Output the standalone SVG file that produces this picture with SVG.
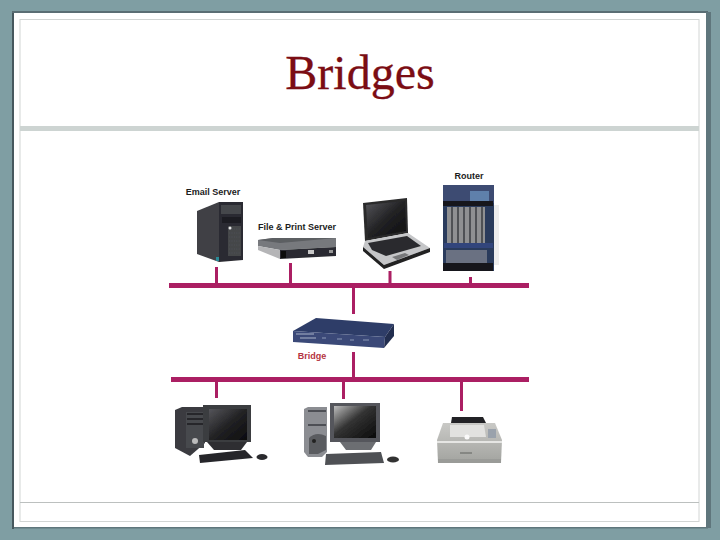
<svg xmlns="http://www.w3.org/2000/svg" width="720" height="540" viewBox="0 0 720 540">
<style>
.lbl{font-family:"Liberation Sans",Arial,sans-serif;font-weight:700;font-size:9px;fill:#1c1c1c}
.bus{fill:#ab1f63}
.drop{stroke:#ab1f63;stroke-width:3;fill:none}
.grille{stroke:#55585c;stroke-width:.7;stroke-dasharray:1.2 1.2;fill:none}
</style>
<defs>
<filter id="soft" x="-5%" y="-5%" width="110%" height="110%"><feGaussianBlur stdDeviation="0.55"/></filter>
<linearGradient id="screen" x1="0" y1="0" x2="1" y2="1"><stop offset="0" stop-color="#55555a"/><stop offset=".5" stop-color="#222224"/><stop offset="1" stop-color="#0c0c0e"/></linearGradient>
<linearGradient id="screen2" x1="0" y1="0" x2="1" y2="1"><stop offset="0" stop-color="#bdbdbd"/><stop offset=".45" stop-color="#333"/><stop offset="1" stop-color="#0a0a0a"/></linearGradient>
<linearGradient id="grey" x1="0" y1="0" x2="0" y2="1"><stop offset="0" stop-color="#c9c9c6"/><stop offset="1" stop-color="#a2a39f"/></linearGradient>
</defs>

<rect width="720" height="540" fill="#7f9ea3"/>
<rect x="12" y="11" width="2" height="518" fill="#46585e"/>
<rect x="12" y="11" width="696" height="2" fill="#5a6e74"/>
<rect x="706" y="12" width="5" height="516" fill="#5f767c"/>
<rect x="14" y="527" width="694" height="1.500" fill="#5f767c"/>
<rect x="14" y="13" width="692" height="514" fill="#fff"/>
<rect x="20" y="19.500" width="679" height="502" fill="none" stroke="#d2d5d4" stroke-width="1"/>
<rect x="20" y="126" width="679" height="5" fill="#cdd4d2"/>
<line x1="20" y1="502.500" x2="699" y2="502.500" stroke="#bcc0bf" stroke-width="1"/>
<text x="360" y="89" text-anchor="middle" font-family="'Liberation Serif','Times New Roman',serif" font-size="48" fill="#7b0d14" stroke="#7b0d14" stroke-width=".3">Bridges</text>

<g id="connectors">
<rect class="bus" x="169" y="283" width="360" height="5"/>
<rect class="bus" x="171" y="377" width="358" height="5"/>
<path class="drop" d="M216.500 267V284M290.500 263V284M353.500 288V314M390 271V284M470.500 277V284M353.500 352V378M216.500 382V398M343.500 382V399M461.500 382V411"/>
</g>

<g id="email-server">
<text class="lbl" x="213" y="195" text-anchor="middle">Email Server</text>
<g filter="url(#soft)">
<path d="M197 211L219 202V262L197 254Z" fill="#3f4044"/>
<path d="M219 202H243V260L219 262Z" fill="#2b2c30"/>
<rect x="221" y="205" width="20" height="9" fill="#45474b"/>
<rect x="222" y="217" width="19" height="6" fill="#1c1c20"/>
<rect x="228" y="226" width="13" height="30" fill="#44464a"/>
<path class="grille" d="M229 229H241M229 233H241M229 237H241M229 241H241M229 245H241M229 249H241M229 253H241"/>
<circle cx="230" cy="228" r="1.500" fill="#e8e8e8"/>
<rect x="216" y="257" width="3" height="4" fill="#2a8a96"/>
</g>
</g>

<g id="file-print-server">
<text class="lbl" x="297" y="230" text-anchor="middle">File &amp; Print Server</text>
<g filter="url(#soft)">
<path d="M258 240L273 238H336V247L280 250L258 246Z" fill="#77797d"/>
<path d="M258 240L273 238H336L280 243Z" fill="#5c5e62"/>
<path d="M280 250L336 247V256L280 259Z" fill="#2a2b30"/>
<path d="M258 246L280 250V259L258 250Z" fill="#b5b5b7"/>
<rect x="281" y="251" width="5" height="7" fill="#0e0e10"/>
<rect x="308" y="250" width="6" height="4" fill="#c8c8c8"/>
<rect x="329" y="250" width="4" height="3" fill="#999"/>
</g>
</g>

<g id="laptop">
<g filter="url(#soft)">
<path d="M363 203L407 198L408 233L365 241Z" fill="#2a2a2c"/>
<path d="M366 205L405 201L406 231L368 238Z" fill="url(#screen)"/>
<path d="M365 241L408 233L430 248L384 265L363 247Z" fill="#c5c6c8"/>
<path d="M368 243L407 236L421 246L386 256L372 250Z" fill="#2a2b2e"/>
<path d="M392 257L405 253L409 255L397 260Z" fill="#77787a"/>
<path d="M363 247L384 265L430 248V252L384 269L363 251Z" fill="#202022"/>
</g>
</g>

<g id="router">
<text class="lbl" x="469" y="179" text-anchor="middle">Router</text>
<g filter="url(#soft)">
<rect x="443" y="185" width="51" height="86" fill="#2c3a5c"/>
<path d="M443 185H494V203H443Z" fill="#3d4c72"/>
<rect x="470" y="191" width="19" height="10" fill="#5e80ab"/>
<rect x="443" y="201" width="50" height="5" fill="#17181d"/>
<rect x="447" y="207" width="38" height="36" fill="#8f9092"/>
<path d="M452 207V243M458 207V243M464 207V243M470 207V243M476 207V243M482 207V243" stroke="#3c3d42" stroke-width="1.500"/>
<rect x="444" y="243" width="49" height="5" fill="#33457c"/>
<rect x="446" y="250" width="41" height="13" fill="#6a7182"/>
<rect x="443" y="263" width="50" height="8" fill="#14161d"/>
<rect x="494" y="205" width="5" height="60" fill="#dcdcdc" opacity=".5"/>
</g>
</g>

<g id="bridge">
<text class="lbl" x="312" y="359" text-anchor="middle" style="fill:#b5343f">Bridge</text>
<g filter="url(#soft)">
<path d="M293 331L316 318L394 324L385 337Z" fill="#2e3d68"/>
<path d="M293 331L385 337L384 348L293 342Z" fill="#3a4a78"/>
<path d="M385 337L394 324V336L384 348Z" fill="#232e50"/>
<path d="M296 334H314M300 338H316" stroke="#aab2c8" stroke-width="1"/>
<path d="M322 338H326M337 339H342M350 340H354M363 340H369" stroke="#8e98b6" stroke-width="1.200"/>
</g>
</g>

<g id="pc-1">
<g filter="url(#soft)">
<path d="M175 410L182 407H205V443L190 456L175 448Z" fill="#3a3b40"/>
<rect x="186" y="412" width="18" height="36" fill="#47494e"/>
<path d="M187 414H203M187 419H203M187 424H203" stroke="#1e1e22" stroke-width="1.500"/>
<circle cx="195" cy="441" r="3" fill="#bbb"/>
<rect x="203" y="405" width="48" height="37" fill="#3b3c40"/>
<rect x="209" y="409" width="38" height="31" fill="url(#screen)"/>
<path d="M207 442H247L241 450H214Z" fill="#2e2f33"/>
<path d="M199 455L245 450L253 458L200 463Z" fill="#26272b"/>
<ellipse cx="262" cy="457" rx="5.500" ry="3" fill="#2b2b2f"/>
</g>
</g>

<g id="pc-2">
<g filter="url(#soft)">
<path d="M304 409L308 407H327V452L322 457H308L304 452Z" fill="#8b8d92"/>
<path d="M308 411H326M308 425H326" stroke="#3b3c40" stroke-width="1.500"/>
<path d="M309 438Q316 431 326 436V450L318 454H309Z" fill="#5a5c60"/>
<circle cx="314" cy="441" r="2" fill="#222"/>
<rect x="330" y="403" width="50" height="39" fill="#54565b"/>
<rect x="334" y="406" width="42" height="32" fill="url(#screen2)"/>
<path d="M340 442H376L371 450H346Z" fill="#6c6e72"/>
<path d="M326 454L381 452L384 463L325 465Z" fill="#4f5155"/>
<ellipse cx="393" cy="459.500" rx="6" ry="3" fill="#333"/>
</g>
</g>

<g id="printer">
<g filter="url(#soft)">
<path d="M452 417H483L486 423H451Z" fill="#232325"/>
<path d="M443 423H495L502 440L501 463H438L437 440Z" fill="url(#grey)"/>
<path d="M450 425H484L486 437H450Z" fill="#e2e2e0"/>
<rect x="488" y="429" width="8" height="9" fill="#9aa2ac"/>
<rect x="437" y="441" width="65" height="2" fill="#e6e6e4"/>
<circle cx="467" cy="437" r="2.500" fill="#fafafa"/>
<path d="M460 453H472" stroke="#6d6e6c" stroke-width="1.200"/>
<path d="M438 459H501V463H438Z" fill="#9a9b98"/>
</g>
</g>
</svg>
